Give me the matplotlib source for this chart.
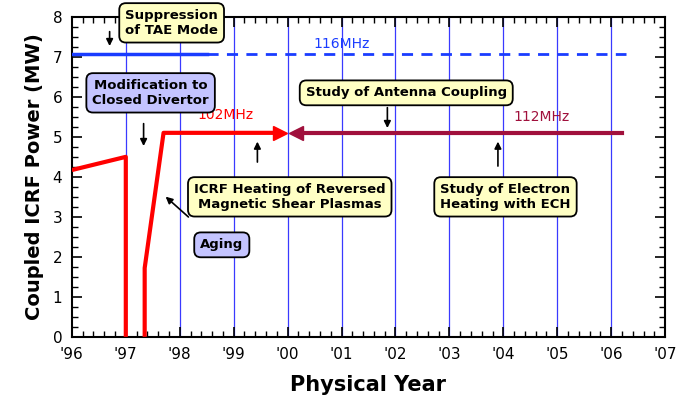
import matplotlib
matplotlib.use("Agg")
import matplotlib.pyplot as plt
from matplotlib.ticker import MultipleLocator

red_x1 = [1996.0, 1997.0, 1997.0]
red_y1 = [4.17, 4.5, 0.0]
red_x2 = [1997.35, 1997.35, 1997.7, 1999.85]
red_y2 = [0.0, 1.72, 5.1, 5.1]
dred_x = [2000.15, 2006.2]
dred_y = [5.1, 5.1]
blue_solid_x = [1996.0, 1998.5]
blue_dash_x = [1998.5, 2006.28]
blue_y = 7.08
xticks = list(range(1996, 2008))
xlabels = ["'96", "'97", "'98", "'99", "'00", "'01", "'02", "'03", "'04", "'05", "'06", "'07"]

fig = plt.figure(figsize=(6.78, 4.01), dpi=100)
ax = fig.add_axes([0.106, 0.160, 0.875, 0.798])
ax.set_xlim(1996, 2007)
ax.set_ylim(0, 8)
for x in range(1997, 2007):
    ax.axvline(x, color="#3a3aff", lw=0.9, zorder=1)

ax.plot(red_x1, red_y1, color="#ff0000", lw=3, zorder=3, solid_capstyle="butt")
ax.plot(red_x2, red_y2, color="#ff0000", lw=3, zorder=3, solid_capstyle="butt")
ax.plot([1999.85], [5.1], marker=">", color="#ff0000", ms=10, zorder=4)
ax.plot(dred_x, dred_y, color="#a0103c", lw=3, zorder=3)
ax.plot([2000.15], [5.1], marker="<", color="#a0103c", ms=10, zorder=4)
ax.plot(blue_solid_x, [blue_y, blue_y], color="#1a3cff", lw=2.5, zorder=3)
ax.plot(blue_dash_x, [blue_y, blue_y], color="#1a3cff", lw=2, ls=(0, (4, 3)), zorder=3)

ax.text(2001.0, 7.33, "116MHz", color="#1a3cff", fontsize=10, ha="center", va="center")
ax.text(1998.85, 5.55, "102MHz", color="#ff0000", fontsize=10, ha="center", va="center")
ax.text(2004.7, 5.5, "112MHz", color="#a0103c", fontsize=10, ha="center", va="center")

yel = "#ffffc4"
lav = "#c4c4ff"
def box(x, y, s, fc):
    ax.text(x, y, s, ha="center", va="center", fontsize=9.5, fontweight="bold",
            linespacing=1.15, zorder=6, clip_on=False,
            bbox=dict(boxstyle="round,pad=0.45,rounding_size=0.5", fc=fc, ec="black", lw=1.3))
def arr(x0, y0, x1, y1):
    ax.annotate("", xy=(x1, y1), xytext=(x0, y0), zorder=5,
                arrowprops=dict(arrowstyle="-|>", color="black", lw=1.2, mutation_scale=10))

box(1997.85, 7.85, "Suppression\nof TAE Mode", yel)
arr(1996.7, 7.7, 1996.7, 7.2)
box(1997.46, 6.1, "Modification to\nClosed Divertor", lav)
arr(1997.33, 5.4, 1997.33, 4.7)
box(1998.78, 2.3, "Aging", lav)
arr(1998.2, 2.95, 1997.7, 3.55)
box(2000.04, 3.5, "ICRF Heating of Reversed\nMagnetic Shear Plasmas", yel)
arr(1999.44, 4.3, 1999.44, 4.95)
box(2002.2, 6.1, "Study of Antenna Coupling", yel)
arr(2001.85, 5.8, 2001.85, 5.15)
box(2004.04, 3.5, "Study of Electron\nHeating with ECH", yel)
arr(2003.9, 4.2, 2003.9, 4.95)

ax.set_xticks(xticks)
ax.set_xticklabels(xlabels, fontsize=11)
ax.xaxis.set_minor_locator(MultipleLocator(0.2))
ax.yaxis.set_major_locator(MultipleLocator(1))
ax.yaxis.set_minor_locator(MultipleLocator(0.25))
ax.tick_params(which="both", direction="in", top=True, right=True, labelsize=11)
ax.tick_params(which="major", length=7, width=1.2, pad=7)
ax.tick_params(which="minor", length=4, width=1)
for s in ax.spines.values():
    s.set_linewidth(1.5)
ax.set_ylabel("Coupled ICRF Power (MW)", fontsize=14, fontweight="bold", labelpad=6)
ax.set_xlabel("Physical Year", fontsize=15, fontweight="bold", labelpad=10)
fig.savefig("out.png", dpi=100)
